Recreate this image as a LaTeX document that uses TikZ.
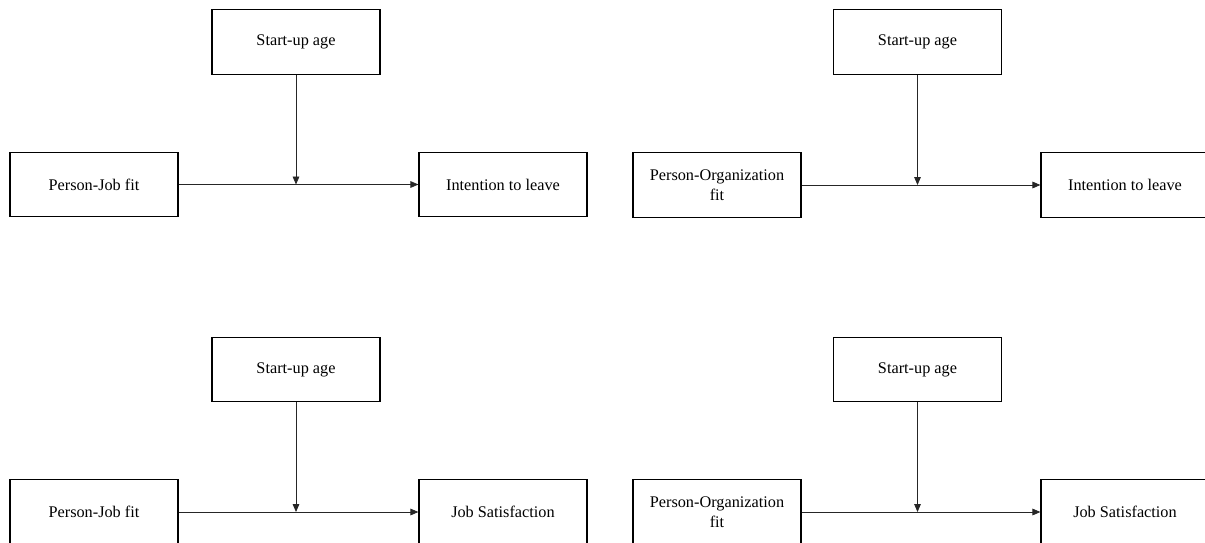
\documentclass[tikz,border=0pt]{standalone}
\usepackage{fontspec}
\setmainfont{Liberation Serif}
\usetikzlibrary{arrows.meta}
\begin{document}
\begin{tikzpicture}[x=0.75pt,y=-0.75pt,
  box/.style={draw=black,line width=0.9pt,rectangle,minimum width=126pt,minimum height=48.5pt,
    inner sep=0pt,align=center,font=\fontsize{12.2}{15}\selectfont},
  conn/.style={draw=black!85,line width=0.6pt,-{Triangle[length=6pt,width=5pt]}}]
\useasboundingbox (0,0) rectangle (1205,542);
% top-left
\node[box] (sa1) at (296,42) {Start-up age};
\node[box] (pj1) at (94,184.5) {Person-Job fit};
\node[box] (il1) at (503,184.5) {Intention to leave};
\coordinate (m1) at (sa1.south |- pj1.east);
\draw[conn] (pj1.east) -- (il1.west);
\draw[conn] (sa1.south) -- (m1);
% top-right
\node[box] (sa2) at (917.5,42) {Start-up age};
\node[box] (po2) at (717,185) {Person-Organization\\fit};
\node[box] (il2) at (1125,185) {Intention to leave};
\coordinate (m2) at (sa2.south |- po2.east);
\draw[conn] (po2.east) -- (il2.west);
\draw[conn] (sa2.south) -- (m2);
% bottom-left
\node[box] (sa3) at (296,369.5) {Start-up age};
\node[box] (pj3) at (94,512) {Person-Job fit};
\node[box] (js3) at (503,512) {Job Satisfaction};
\coordinate (m3) at (sa3.south |- pj3.east);
\draw[conn] (pj3.east) -- (js3.west);
\draw[conn] (sa3.south) -- (m3);
% bottom-right
\node[box] (sa4) at (917.5,369.5) {Start-up age};
\node[box] (po4) at (717,512) {Person-Organization\\fit};
\node[box] (js4) at (1125,512) {Job Satisfaction};
\coordinate (m4) at (sa4.south |- po4.east);
\draw[conn] (po4.east) -- (js4.west);
\draw[conn] (sa4.south) -- (m4);
\end{tikzpicture}
\end{document}
